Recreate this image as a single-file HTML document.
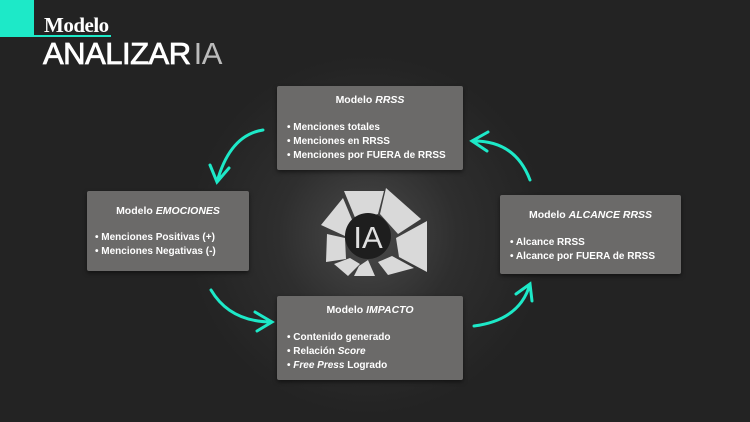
<!DOCTYPE html>
<html><head><meta charset="utf-8"><style>
body{margin:0;width:750px;height:422px;background:#232323;overflow:hidden;position:relative;font-family:"Liberation Sans",sans-serif;}
.bg{position:absolute;left:0;top:0;width:750px;height:422px;background:radial-gradient(circle at 368px 235px,#4a4a4a 0,#2e2e2e 90px,#232323 180px);}
.box{position:absolute;background:#6b6a69;color:#fff;border-radius:2px;box-shadow:0 2px 4px rgba(0,0,0,.5);font-size:10px;font-weight:bold;}
.box h{display:block;text-align:center;font-size:10.5px;}
.box ul{margin:0;padding:0 0 0 13px;list-style:none;}
.box li{line-height:14px;}
.box li:before{content:"• ";}
</style></head><body>
<div class="bg"></div>
<div style="position:absolute;left:0;top:0;width:34px;height:37px;background:#1de9c8"></div>
<div style="position:absolute;left:34px;top:35px;width:77px;height:2px;background:#1de9c8"></div>
<div style="position:absolute;left:44px;top:13px;font-family:'Liberation Serif',serif;font-weight:bold;font-size:21px;color:#fff;letter-spacing:-0.5px">Modelo</div>
<div style="position:absolute;left:43px;top:36px;font-size:31px;color:#fff;letter-spacing:-0.5px;line-height:36px;-webkit-text-stroke:0.8px #fff">ANALIZAR<span style="color:#bbb;font-weight:normal;margin-left:3px;-webkit-text-stroke:0">IA</span></div>

<div class="box" style="left:277px;top:86px;width:186px;height:84px"><h style="margin-top:8px">Modelo <i>RRSS</i></h><ul style="margin-top:15px;padding-left:10px"><li>Menciones totales</li><li>Menciones en RRSS</li><li>Menciones por FUERA de RRSS</li></ul></div>
<div class="box" style="left:87px;top:191px;width:162px;height:80px"><h style="margin-top:14px">Modelo <i>EMOCIONES</i></h><ul style="margin-top:14px;padding-left:8px"><li>Menciones Positivas (+)</li><li>Menciones Negativas (-)</li></ul></div>
<div class="box" style="left:500px;top:195px;width:181px;height:79px"><h style="margin-top:14px">Modelo <i>ALCANCE RRSS</i></h><ul style="margin-top:15px;padding-left:10px"><li>Alcance RRSS</li><li>Alcance por FUERA de RRSS</li></ul></div>
<div class="box" style="left:277px;top:296px;width:186px;height:84px"><h style="margin-top:8px">Modelo <i>IMPACTO</i></h><ul style="margin-top:15px;padding-left:10px"><li>Contenido generado</li><li>Relación <i>Score</i></li><li><i>Free Press</i> Logrado</li></ul></div>

<svg width="750" height="422" style="position:absolute;left:0;top:0" fill="none" stroke="#1de9c8" stroke-width="3" stroke-linecap="round">
<path d="M263 130 Q230 135 217 182 M210 165 L217 182 L229 168"/>
<path d="M211 290 Q230 322 272 322 M255 312 L272 322 L257 331"/>
<path d="M474 326 Q520 320 530 284 M516 294 L530 284 L532 301"/>
<path d="M530 180 Q515 140 472 141 M488 132 L472 141 L487 151"/>
<g stroke="none" fill="#d9d9d9">
<polygon points="344,191 384,191 378,214 356,220"/>
<polygon points="386,188 421,219 398,234 380,214"/>
<polygon points="321,225 343,198 353,222 345,236"/>
<polygon points="327,234 345,238 346,259 326,262"/>
<polygon points="396,238 427,221 427,272 399,257"/>
<polygon points="334,264 350,258 360,264 348,276"/>
<polygon points="359,266 368,260 375,276 354,276"/>
<polygon points="378,262 392,256 414,268 388,275"/>
</g>
<circle cx="368" cy="236" r="23" fill="#1e1e1e" stroke="none"/>
<text x="368" y="248" text-anchor="middle" font-family="Liberation Sans" font-size="31" fill="#e0e0e0" stroke="none">IA</text>
</svg>
</body></html>
